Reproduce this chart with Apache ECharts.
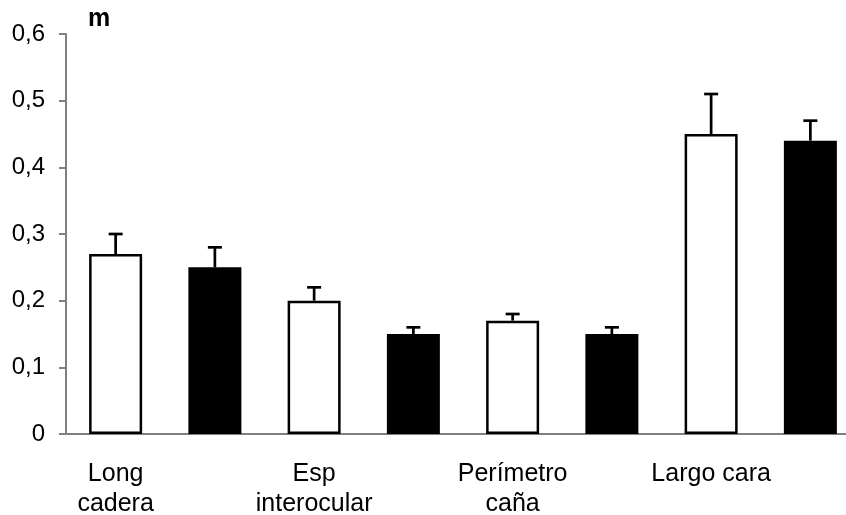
<!DOCTYPE html>
<html>
<head>
<meta charset="utf-8">
<script src="https://cdn.jsdelivr.net/npm/echarts@6/dist/echarts.min.js"></script>
<style>
html,body{margin:0;padding:0;background:#fff;}
#chart{width:846px;height:515px;}
</style>
</head>
<body>
<div id="chart"></div>
<script>
// Data
const categories = ['Long\ncadera', '', 'Esp\ninterocular', '', 'Perímetro\ncaña', '', 'Largo cara', ''];
const values = [0.27, 0.25, 0.20, 0.15, 0.17, 0.15, 0.45, 0.44];
const upperErrors = [0.30, 0.28, 0.22, 0.16, 0.18, 0.16, 0.51, 0.47];
const barFills = ['#ffffff', '#000000', '#ffffff', '#000000', '#ffffff', '#000000', '#ffffff', '#000000'];
const yTicks = [0, 0.1, 0.2, 0.3, 0.4, 0.5, 0.6];
const yUnit = 'm';

const chart = echarts.init(document.getElementById('chart'), null, {renderer: 'canvas'});
const font = '"Liberation Sans", Arial, sans-serif';

const option = {
  animation: false,
  backgroundColor: '#ffffff',
  grid: {left: 66, top: 34, width: 794, height: 400, containLabel: false, outerBoundsMode: 'none'},
  xAxis: {
    type: 'category',
    data: categories,
    axisLine: {show: true, lineStyle: {color: '#808080', width: 2}},
    axisTick: {show: false},
    axisLabel: {
      interval: 0,
      margin: 25,
      color: '#000',
      fontFamily: font,
      fontSize: 25,
      lineHeight: 30
    },
    splitLine: {show: false}
  },
  yAxis: {
    type: 'value',
    min: yTicks[0],
    max: yTicks[yTicks.length - 1],
    interval: 0.1,
    name: yUnit,
    nameLocation: 'end',
    nameGap: 2,
    nameTextStyle: {
      fontFamily: font,
      fontWeight: 'bold',
      fontSize: 25,
      color: '#000',
      align: 'left',
      padding: [0, 0, 0, 22]
    },
    axisLine: {show: true, lineStyle: {color: '#808080', width: 2}},
    axisTick: {show: true, inside: false, length: 7, lineStyle: {color: '#808080', width: 2}},
    axisLabel: {
      margin: 21,
      color: '#000',
      fontFamily: font,
      fontSize: 24,
      formatter: function (v) { return String(Math.round(v * 10) / 10).replace('.', ','); }
    },
    splitLine: {show: false}
  },
  series: [
    {
      type: 'bar',
      barWidth: 53,
      data: values.map(function (v, i) {
        return {value: v, itemStyle: {color: barFills[i], borderColor: '#000', borderWidth: 2.5}};
      }),
      z: 2
    },
    {
      type: 'custom',
      data: values.map(function (v, i) { return [i, v, upperErrors[i]]; }),
      renderItem: function (params, api) {
        const base = api.coord([api.value(0), api.value(1)]);
        const top = api.coord([api.value(0), api.value(2)]);
        const hw = 7;
        const st = {stroke: '#000', lineWidth: 2.7};
        return {
          type: 'group',
          children: [
            {type: 'line', shape: {x1: base[0], y1: base[1], x2: top[0], y2: top[1]}, style: st},
            {type: 'line', shape: {x1: top[0] - hw, y1: top[1], x2: top[0] + hw, y2: top[1]}, style: st}
          ]
        };
      },
      z: 3
    }
  ]
};
chart.setOption(option);
</script>
</body>
</html>
